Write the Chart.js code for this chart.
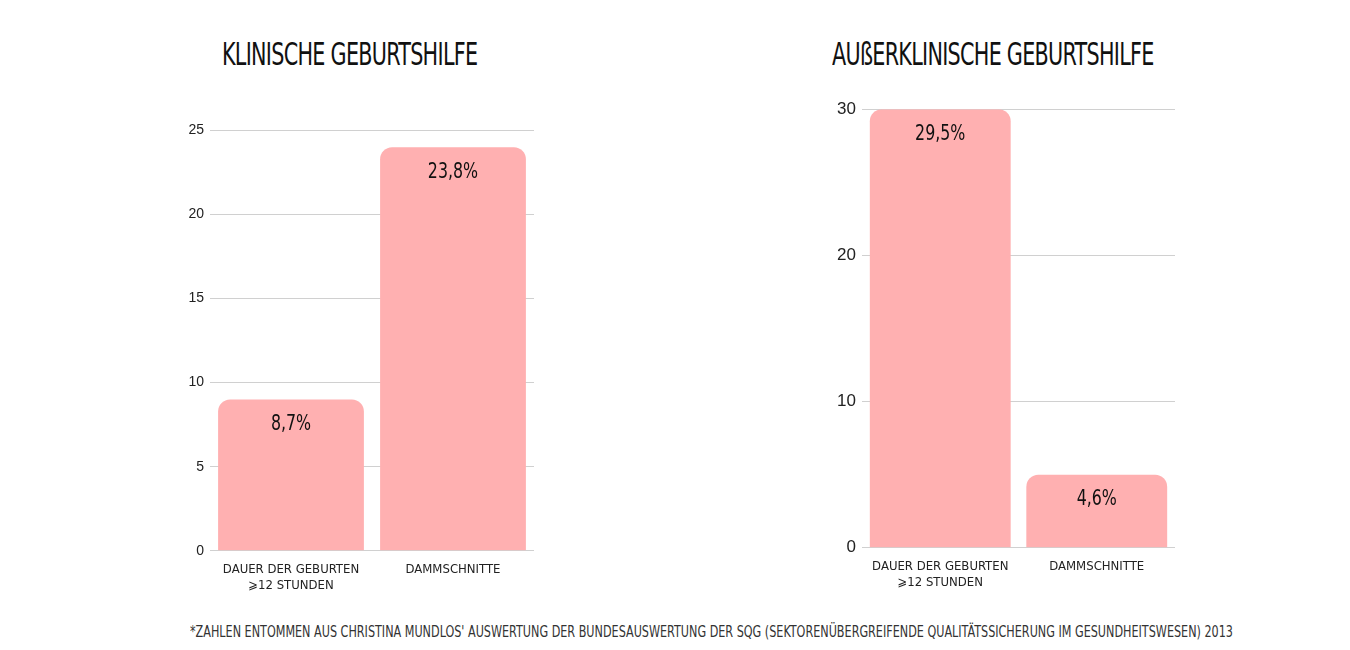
<!DOCTYPE html>
<html><head><meta charset="utf-8">
<script src="https://cdn.jsdelivr.net/npm/chart.js@4"></script>
<style>
body{margin:0;width:1350px;height:650px;background:#fff;position:relative;font-family:"DejaVu Sans Condensed","Liberation Sans Narrow",sans-serif;}
.t{position:absolute;font-size:32px;color:#111;letter-spacing:-1px;transform:scaleX(0.72);transform-origin:left;white-space:nowrap;}
.c{position:absolute;}
#note{position:absolute;top:623px;left:190px;font-size:15px;color:#333;white-space:nowrap;transform:scaleX(0.83);transform-origin:left;}
</style></head><body>
<div class="t" style="left:222px;top:35px">KLINISCHE GEBURTSHILFE</div>
<div class="t" style="left:832px;top:35px">AUßERKLINISCHE GEBURTSHILFE</div>
<div class="c" style="left:170px;top:116px;width:364px;height:480px"><canvas id="c1"></canvas></div>
<div class="c" style="left:815px;top:93px;width:360px;height:500px"><canvas id="c2"></canvas></div>
<div id="note">*ZAHLEN ENTOMMEN AUS CHRISTINA MUNDLOS' AUSWERTUNG DER BUNDESAUSWERTUNG DER SQG (SEKTORENÜBERGREIFENDE QUALITÄTSSICHERUNG IM GESUNDHEITSWESEN) 2013</div>
<script>
const categories = [["DAUER DER GEBURTEN", "⩾12 STUNDEN"], "DAMMSCHNITTE"];
const klinischValues = [9, 24];
const klinischLabels = ["8,7%", "23,8%"];
const ausserValues = [30, 5];
const ausserLabels = ["29,5%", "4,6%"];
const font = '"DejaVu Sans Condensed","Liberation Sans Narrow",sans-serif';

const valueLabels = {
  id: "valueLabels",
  afterDatasetsDraw(chart, args, opts) {
    const ctx = chart.ctx;
    const meta = chart.getDatasetMeta(0);
    ctx.save();
    ctx.fillStyle = "#111";
    ctx.font = "22px " + font;
    ctx.textAlign = "center";
    ctx.textBaseline = "top";
    meta.data.forEach((bar, i) => {
      ctx.save();
      ctx.translate(bar.x, bar.y + 14);
      ctx.scale(0.8, 1);
      ctx.fillText(opts.labels[i], 0, 0);
      ctx.restore();
    });
    ctx.restore();
  }
};

function makeChart(id, values, labels, max, step, tickSize, padTop, axisW) {
  new Chart(document.getElementById(id), {
    type: "bar",
    data: {
      labels: categories,
      datasets: [{
        data: values,
        backgroundColor: "#ffb0b1",
        borderRadius: { topLeft: 12, topRight: 12 },
        borderSkipped: false,
        barPercentage: 0.9,
        categoryPercentage: 1
      }]
    },
    options: {
      responsive: true,
      maintainAspectRatio: false,
      animation: false,
      layout: { padding: { top: padTop } },
      plugins: { legend: { display: false }, tooltip: { enabled: false }, valueLabels: { labels: labels } },
      scales: {
        x: {
          grid: { display: false },
          border: { display: false },
          ticks: { color: "#222", maxRotation: 0, autoSkip: false, font: { family: font, size: 13 } }
        },
        y: {
          min: 0, max: max,
          afterFit: s => { s.width = axisW; },
          grid: { color: "#d0d0d0", drawTicks: false },
          border: { display: false },
          ticks: { stepSize: step, color: "#222", padding: 6, font: { family: "Liberation Sans", size: tickSize } }
        }
      }
    },
    plugins: [valueLabels]
  });
}
makeChart("c1", klinischValues, klinischLabels, 25, 5, 14, 10, 40);
makeChart("c2", ausserValues, ausserLabels, 30, 10, 17, 6, 47);
</script>
</body></html>
